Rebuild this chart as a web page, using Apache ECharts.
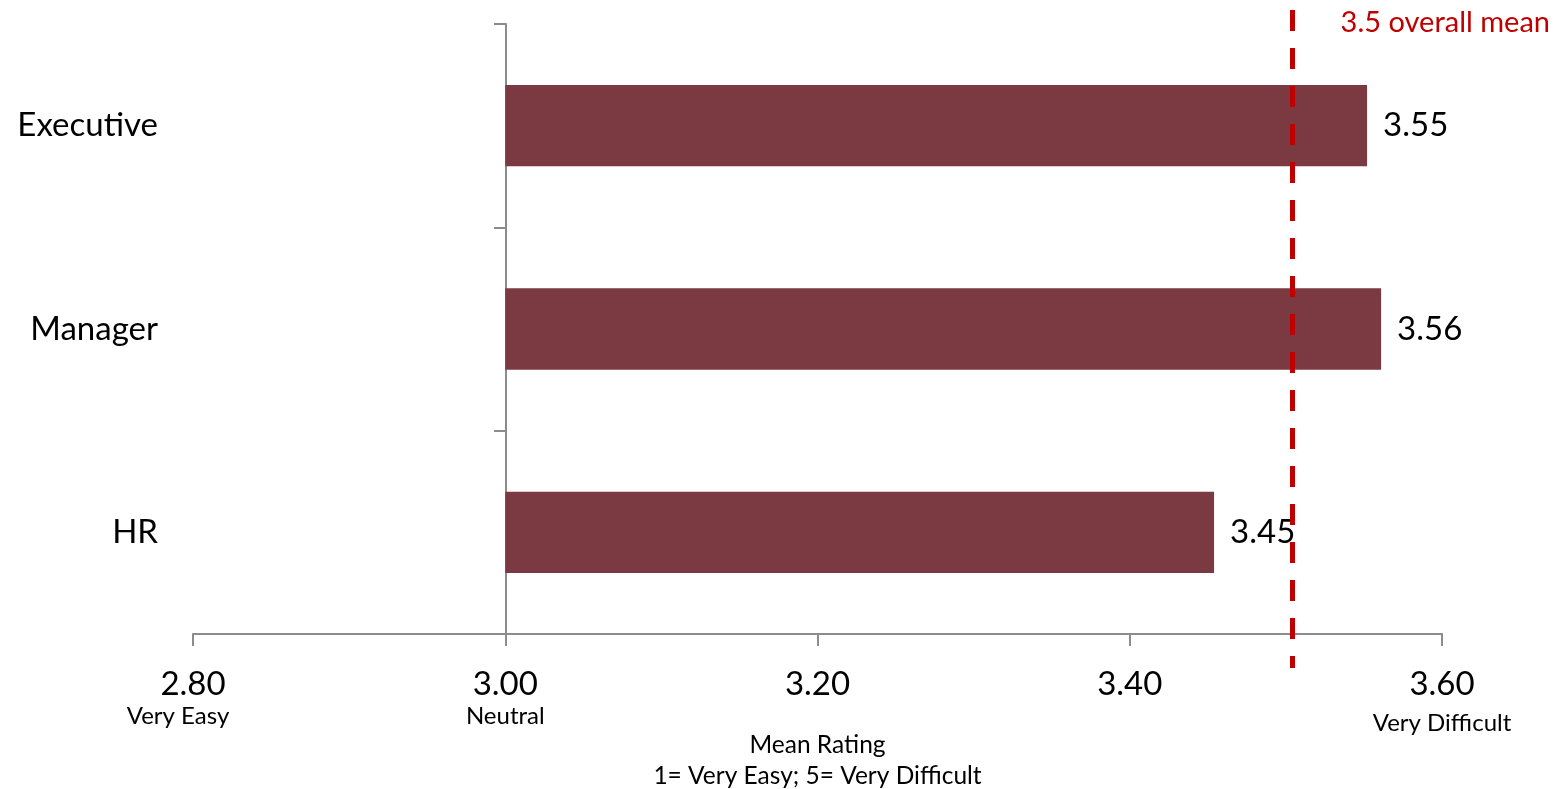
<!DOCTYPE html>
<html>
<head>
<meta charset="utf-8">
<script src="https://cdn.jsdelivr.net/npm/echarts@6/dist/echarts.min.js"></script>
<style>html,body{margin:0;padding:0;background:#fff}#c{width:1567px;height:789px}</style>
</head>
<body>
<div id="c"></div>
<script>
const categories = ['Executive', 'Manager', 'HR'];
const meanRatings = [3.552, 3.561, 3.454];
const baseline = 3.0;
const overallMean = 3.504;
const overallMeanLabel = '3.5 overall mean';
const tickValues = [2.8, 3.0, 3.2, 3.4, 3.6];
const tickSubLabels = ['Very Easy', 'Neutral', '', '', 'Very Difficult'];
const axisTitle = 'Mean Rating\n1= Very Easy; 5= Very Difficult';

const FONT = 'Lato';
const chart = echarts.init(document.getElementById('c'), null, {renderer: 'canvas'});

const subStyleFor = function (i) {
  if (i === 0) return 'sE';
  if (i === tickSubLabels.length - 1) return 'sD';
  return 's';
};

chart.setOption({
  animation: false,
  title: {
    text: overallMeanLabel,
    right: 12, top: 3,
    textStyle: {fontFamily: FONT, fontSize: 29, fontWeight: 'normal', color: '#c00000'}
  },
  grid: {left: 193, right: 125, top: 24, bottom: 155, containLabel: false, outerBoundsMode: 'none'},
  xAxis: {
    type: 'value',
    min: tickValues[0], max: tickValues[tickValues.length - 1], interval: 0.2,
    splitLine: {show: false},
    axisLine: {show: true, lineStyle: {color: '#8c8c8c', width: 2}},
    axisTick: {show: true, length: 12, lineStyle: {color: '#8c8c8c', width: 2}},
    axisLabel: {
      margin: 32,
      formatter: function (v) {
        let i = tickValues.findIndex(t => Math.abs(t - v) < 1e-6);
        let s = '{v|' + v.toFixed(2) + '}';
        if (i >= 0 && tickSubLabels[i]) s += '\n{' + subStyleFor(i) + '|' + tickSubLabels[i] + '}';
        return s;
      },
      rich: {
        v: {fontFamily: FONT, fontSize: 33, color: '#000', lineHeight: 36},
        s: {fontFamily: FONT, fontSize: 24, color: '#000', lineHeight: 28},
        sE: {fontFamily: FONT, fontSize: 24, color: '#000', lineHeight: 28, padding: [0, 30, 0, 0]},
        sD: {fontFamily: FONT, fontSize: 24, color: '#000', lineHeight: 28, padding: [14, 0, 0, 0]}
      }
    },
    name: axisTitle,
    nameLocation: 'middle',
    nameGap: 96,
    nameMoveOverlap: false,
    nameTextStyle: {fontFamily: FONT, fontSize: 24.5, color: '#000', lineHeight: 31}
  },
  yAxis: {
    type: 'category',
    data: categories,
    inverse: true,
    offset: -313,
    axisLine: {show: true, lineStyle: {color: '#8c8c8c', width: 2}},
    axisTick: {show: true, length: 12, lineStyle: {color: '#8c8c8c', width: 2}},
    axisLabel: {margin: 348, fontFamily: FONT, fontSize: 33, color: '#000'},
    splitLine: {show: false}
  },
  series: [
    {
      type: 'bar', stack: 'r', barWidth: '40%', silent: true,
      itemStyle: {color: 'transparent'},
      data: meanRatings.map(() => baseline)
    },
    {
      type: 'bar', stack: 'r', barWidth: '40%',
      itemStyle: {color: '#7b3a42'},
      label: {
        show: true, position: 'right', distance: 16,
        fontFamily: FONT, fontSize: 33, color: '#000',
        formatter: p => meanRatings[p.dataIndex].toFixed(2)
      },
      data: meanRatings.map(v => +(v - baseline).toFixed(6)),
      markLine: {
        silent: true, symbol: ['none', 'none'], label: {show: false},
        lineStyle: {color: '#c00000', width: 5, type: [21, 17]},
        data: [[{xAxis: overallMean, y: 10}, {xAxis: overallMean, y: 668}]]
      }
    }
  ]
});
</script>
</body>
</html>
